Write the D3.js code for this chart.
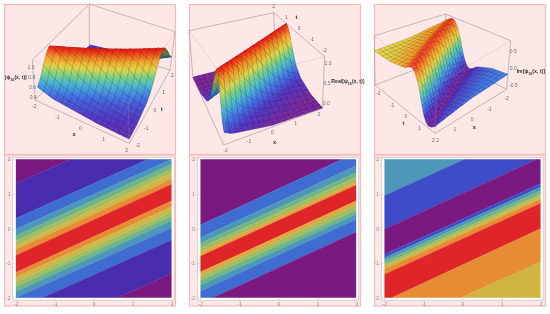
<!DOCTYPE html>
<html><head><meta charset="utf-8">
<style>html,body{margin:0;background:#fff}svg{display:block;filter:blur(.3px)}text{font-family:"Liberation Sans",Arial,sans-serif}</style>
<script src="https://cdn.jsdelivr.net/npm/d3@7"></script></head><body>
<svg id="c" width="550" height="314"></svg>
<script>
// ---- values ----
const axisTicks=[-2,-1,0,1,2];
// wave profiles: height against u = t - x/2
const absU=[-3,-2.3,-1.32,-1,-.8,-.66,-.55,-.4,-.25,-.12,0,.12,.25,.4,.55,.66,.8,1,1.32,2.3,3];
const absZ=[.36,.38,.46,.54,.62,.69,.77,.85,.92,.98,1,.98,.92,.85,.77,.69,.62,.54,.46,.38,.36];
const reU=[-3,-2,-1.15,-.77,-.6,-.47,-.34,-.23,-.12,0,.12,.23,.34,.47,.6,.77,1.15,2,3];
const reZ=[.01,.03,.14,.29,.43,.57,.71,.86,.96,1,.96,.86,.71,.57,.43,.29,.14,.03,.01];
const imU=[-3,-2,-1.05,-.75,-.55,-.42,-.3,-.17,-.08,0,.08,.17,.27,.42,.55,.75,1.05,2,3];
const imZ=[.28,.33,.5,.63,.68,.62,.5,.33,.17,0,-.17,-.33,-.5,-.62,-.68,-.63,-.5,-.33,-.28];
// contour boundaries: y at x=-2 and y at x=2, top band to bottom band
const cLeft1=[1.29,.29,-.02,-.22,-.36,-.5,-.61,-.78,-1.27,-1.41,-1.55,-1.68,-1.83,-2,-2.35,-3.31];
const cRight1=[3.31,2.31,2,1.86,1.72,1.6,1.43,1.28,.8,.63,.49,.36,.23,.02,-.33,-1.3];
const cBands1=["purple","indigo","blue","teal","green","lime","yellow","orange","red","orange","yellow","lime","green","teal","blue","indigo","purple"];
const cLeft2=[.1,-.27,-.43,-.56,-.69,-.8,-1.26,-1.37,-1.5,-1.64,-1.81,-2.17];
const cRight2=[2.19,1.81,1.62,1.49,1.35,1.26,.8,.67,.53,.41,.27,-.1];
const cBands2=["purple","blue","teal","green","lime","amber","red","amber","lime","green","teal","blue","purple"];
const cLeft3=[.95,-.02,-.75,-.85,-.94,-1.03,-1.1,-1.18,-1.33,-2.1,-3];
const cRight3=[3,2.05,1.3,1.2,1.1,1,.93,.85,.73,0,-.96];
const cBands3=["teal","royal","purple","royal","teal","green","lime","yellow","orange","red","orange","gold"];
const bandColor={purple:"#7a1a80",indigo:"#4a2cae",blue:"#3f6cd0",royal:"#3f4cc8",teal:"#4d98b8",green:"#71b585",lime:"#a4bd62",yellow:"#cdb848",amber:"#e3a63c",orange:"#e88b35",red:"#e0252a",gold:"#cfb53f"};
const rainbow=d3.scaleLinear().domain([0,.14,.28,.42,.56,.7,.85,1]).range(["#7a1a92","#4a30c4","#3a70e4","#40b0d4","#70d084","#e2d440","#f79420","#f21616"]).clamp(true);

const svg=d3.select("#c");
const BORDER="#f9b9b9",PANEL="#fde7e7";
[[4.5,4.5,171,150],[189.5,4.5,171,150],[374.5,4.5,171,150],[4.5,155,171,151],[189.5,155,171,151],[374.5,155,171,151]]
 .forEach(r=>svg.append("rect").attr("x",r[0]).attr("y",r[1]).attr("width",r[2]).attr("height",r[3]).attr("fill",PANEL).attr("stroke",BORDER).attr("stroke-width",1.2));

// ---- 3D panels: corners are [x=-2,t=-2],[x=2,t=-2],[x=2,t=2],[x=-2,t=2], in 3x crop pixels ----
const dom=d3.scaleLinear().domain([-2,2]).range([0,1]);
function bil(c,a,b){const l=(i)=>(c[0][i]*(1-a)+c[1][i]*a)*(1-b)+(c[3][i]*(1-a)+c[2][i]*a)*b;return [l(0),l(1)];}
function surface(o){
 const g=svg.append("g").attr("transform",`translate(${o.ox},0) scale(${1/3})`);
 const zs=d3.scaleLinear().domain(o.zDomain).range([0,1]);
 const prof=d3.scaleLinear().domain(o.u).range(o.z);
 const P=(c1,c2)=>(x,t,z)=>{const a=dom(x),b=dom(t),L=bil(c1,a,b),H=bil(c2,a,b),k=zs(z);return [L[0]+k*(H[0]-L[0]),L[1]+k*(H[1]-L[1])];};
 const box=P(o.boxLo,o.boxHi), sp=P(o.lo,o.hi);
 const S=o.near, F=d3.line();
 const cs=[[-2,-2],[2,-2],[2,2],[-2,2]];
 const idx=[0,1,2,3], z0=o.zDomain[0], z1=o.zDomain[1];
 const edges=[];
 idx.forEach(i=>{const j=(i+1)%4;edges.push({a:[...cs[i],z0],b:[...cs[j],z0],f:false});
   edges.push({a:[...cs[i],z1],b:[...cs[j],z1],f:i===S||j===S});});
 idx.forEach(i=>edges.push({a:[...cs[i],z0],b:[...cs[i],z1],f:i===S}));
 const drawE=(arr,op)=>g.append("g").selectAll("path").data(arr).join("path").attr("d",e=>F([box(...e.a),box(...e.b)])).attr("fill","none").attr("stroke","#a8a4a4").attr("stroke-opacity",op).attr("stroke-width",2.4);
 drawE(edges.filter(e=>!e.f),.9);
 // surface
 const n=48, step=4/n, items=[];
 const h=(x,t)=>prof(t-x/2);
 const sign=Math.sign(((o.lo[1][0]-o.lo[0][0])*(o.lo[3][1]-o.lo[0][1])-(o.lo[1][1]-o.lo[0][1])*(o.lo[3][0]-o.lo[0][0])));
 for(let i=0;i<n;i++)for(let j=0;j<n;j++){
  const x=-2+i*step,t=-2+j*step,X=x+step,T=t+step;
  const p=[sp(x,t,h(x,t)),sp(X,t,h(X,t)),sp(X,T,h(X,T)),sp(x,T,h(x,T))];
  const zc=(h(x,t)+h(X,t)+h(X,T)+h(x,T))/4;
  const back=Math.sign(d3.polygonArea(p))===sign;
  let col=d3.rgb(rainbow(zs(zc)));
  if(back)col=col.darker(o.backDark);
  const depth=bil(o.lo,dom(x+step/2),dom(t+step/2))[1];
  let m="";
  if(i%3===0)m+=F([p[0],p[3]]);
  if((i+1)%3===0)m+=F([p[1],p[2]]);
  if(j%3===0)m+=F([p[0],p[1]]);
  if((j+1)%3===0)m+=F([p[3],p[2]]);
  items.push({d:F(p)+"Z",col:col.formatHex(),m,depth});
 }
 items.sort((a,b)=>a.depth-b.depth);
 const flat=[];items.forEach(c=>{flat.push({d:c.d,fill:c.col});if(c.m)flat.push({d:c.m,mesh:true});});
 g.append("g").selectAll("path").data(flat).join("path").attr("d",d=>d.d)
  .attr("fill",d=>d.mesh?"none":d.fill)
  .attr("stroke",d=>d.mesh?"#1c1c24":d.fill)
  .attr("stroke-opacity",d=>d.mesh?.32:1)
  .attr("stroke-width",d=>d.mesh?1.6:1);
 drawE(edges.filter(e=>e.f),.3);
 // tick labels
 const tick=(vals,from,to,dm,fmt)=>{
  const sx=d3.scaleLinear().domain(dm).range([from[0],to[0]]),sy=d3.scaleLinear().domain(dm).range([from[1],to[1]]);
  g.append("g").selectAll("text").data(vals).join("text").attr("x",v=>sx(v)).attr("y",v=>sy(v)).attr("dy",".35em").attr("text-anchor","middle")
   .attr("font-size",15).attr("fill","#6e6e6e").text(fmt);
 };
 const fi=d=>d<0?"-"+Math.abs(d):""+d, ff=d=>d<0?"-"+d3.format(".1f")(-d):d3.format(".1f")(d);
 tick(axisTicks,o.xT[0],o.xT[1],[-2,2],fi);
 tick(axisTicks,o.tT[0],o.tT[1],[-2,2],fi);
 tick(o.zTicks,o.zT[0],o.zT[1],[o.zTicks[0],o.zTicks[o.zTicks.length-1]],ff);
 [["x",o.xTitle],["t",o.tTitle]].forEach(a=>g.append("text").attr("x",a[1][0]).attr("y",a[1][1]).attr("dy",".35em").attr("text-anchor","middle").attr("font-size",17).attr("font-weight","bold").attr("fill","#333").text(a[0]));
 const lab=g.append("text").attr("x",o.title[0]).attr("y",o.title[1]).attr("dy",".35em").attr("font-size",15.5).attr("font-weight","bold").attr("fill","#333");
 lab.append("tspan").text(o.pre+"\u03C8");
 lab.append("tspan").attr("font-size",11).attr("dy",4).text("16");
 lab.append("tspan").attr("dy",-4).text("(x, t)"+o.post);
}
const lo1=[[105,300],[388,430],[510,210],[268,137]],hi1=[[97,180],[385,310],[525,95],[268,12]];
surface({ox:0,u:absU,z:absZ,zDomain:[.3,1],near:1,backDark:1.8,boxLo:lo1,boxHi:hi1,
 lo:[[115,305],[388,428],[510,210],[272,146]],hi:[[108,178],[385,300],[525,95],[268,20]],
 xT:[[103,320],[380,452]],tT:[[413,437],[517,225]],zTicks:[.4,.6,.8,1],zT:[[100,293],[93,203]],
 xTitle:[222,403],tTitle:[485,328],title:[15,233],pre:"|",post:"|"});
const lo2=[[122,435],[418,325],[278,175],[30,233]],hi2=[[130,245],[425,170],[272,38],[18,92]];
surface({ox:183,u:reU,z:reZ,zDomain:[0,1],near:0,backDark:.6,boxLo:lo2,boxHi:hi2,lo:lo2,hi:hi2,
 xT:[[128,452],[408,343]],tT:[[425,150],[272,20]],zTicks:[0,.5,1],zT:[[430,310],[435,190]],
 xTitle:[275,427],tTitle:[340,50],title:[445,245],pre:"Real[",post:"]"});
// panel 3: x=2 is at the left of the front corner
const lo3=[[240,175],[30,255],[210,400],[425,268]],hi3=[[242,42],[28,107],[215,255],[437,122]];
surface({ox:365,u:imU,z:imZ,zDomain:[-.73,.73],near:2,backDark:.6,boxLo:lo3,boxHi:hi3,lo:lo3,hi:hi3,
 xT:[[425,295],[218,420]],tT:[[40,280],[205,420]],zTicks:[-.5,0,.5],zT:[[445,255],[445,155]],
 xTitle:[328,380],tTitle:[115,370],title:[455,215],pre:"Im[",post:"]"});

// ---- contour panels ----
function contour(id,L,R,bands,px0,px1){
 const py0=159.3,py1=297.7;
 const x=d3.scaleLinear().domain([-2,2]).range([px0,px1]);
 const y=d3.scaleLinear().domain([-2,2]).range([py1,py0]);
 const g=svg.append("g");
 g.append("rect").attr("x",px0-3).attr("y",py0-2).attr("width",px1-px0+5.5).attr("height",py1-py0+4.5).attr("fill","#fff").attr("stroke","#c9c0c0").attr("stroke-width",.7);
 g.append("clipPath").attr("id",id).append("rect").attr("x",px0).attr("y",py0).attr("width",px1-px0).attr("height",py1-py0);
 const xs=[-2,2], top=[6,6], bot=[-6,-6];
 const edge=(k)=>k<0?top:k>=L.length?bot:[L[k],R[k]];
 const area=d3.area().x(d=>x(d.x)).y0(d=>y(d.a)).y1(d=>y(d.b));
 g.append("g").attr("clip-path",`url(#${id})`).selectAll("path").data(bands).join("path")
  .attr("d",(b,k)=>{const A=edge(k-1),B=edge(k);return area(xs.map((v,i)=>({x:v,a:A[i],b:B[i]})));})
  .attr("fill",b=>bandColor[b]).attr("stroke",b=>bandColor[b]).attr("stroke-width",.25);
 const fmt=d=>d<0?"-"+Math.abs(d):""+d;
 const ax=(gen,tr)=>{const a=g.append("g").attr("transform",tr).call(gen);
   a.select(".domain").remove();a.selectAll("line").attr("stroke","#aaa").attr("stroke-width",.5);
   a.selectAll("text").attr("fill","#8a8a8a").attr("font-size",5).style("font-family",'"Liberation Sans",Arial,sans-serif');};
 ax(d3.axisBottom(x).tickValues(axisTicks).tickFormat(fmt).tickSize(-1.8).tickPadding(2.2),`translate(0,${py1+2.5})`);
 ax(d3.axisLeft(y).tickValues(axisTicks).tickFormat(fmt).tickSize(-1.8).tickPadding(2.2),`translate(${px0-3},0)`);
}
contour("c1",cLeft1,cRight1,cBands1,15.7,171.7);
contour("c2",cLeft2,cRight2,cBands2,200.3,356.3);
contour("c3",cLeft3,cRight3,cBands3,384.3,540.7);
</script></body></html>
